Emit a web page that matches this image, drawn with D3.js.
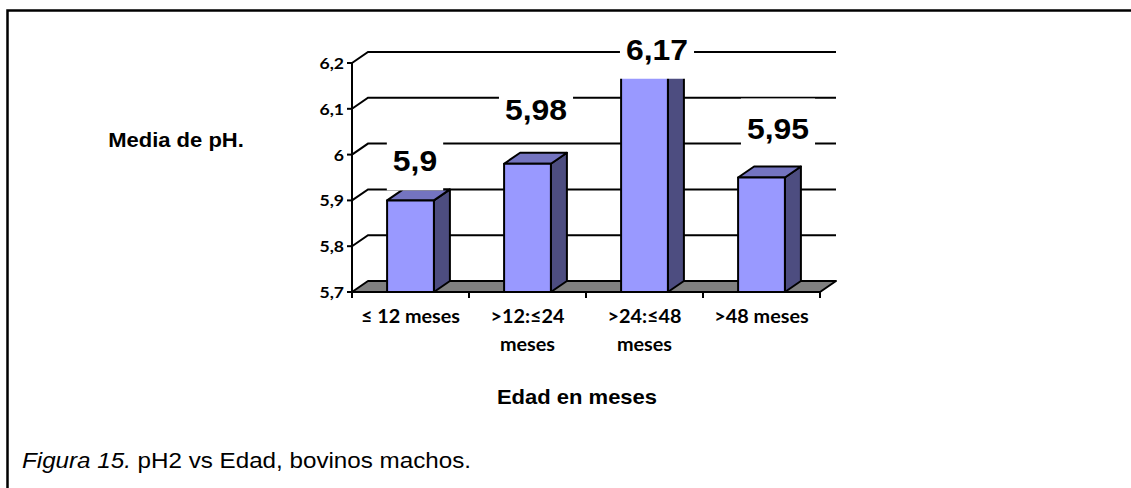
<!DOCTYPE html>
<html>
<head>
<meta charset="utf-8">
<script src="https://cdn.jsdelivr.net/npm/d3@7"></script>
<style>
  html, body { margin: 0; padding: 0; background: #fff; }
  svg { display: block; }
</style>
</head>
<body>
<svg id="chart" width="1131" height="488"></svg>
<script>
// Mean pH by age group (male cattle)
const categories = ["≤ 12 meses", ">12:≤24 meses", ">24:≤48 meses", ">48 meses"];
const categoryLines = [["≤ 12 meses"], [">12:≤24", "meses"], [">24:≤48", "meses"], [">48 meses"]];
const values = [5.9, 5.98, 6.17, 5.95];
const valueLabels = ["5,9", "5,98", "6,17", "5,95"];
const yTicks = [5.7, 5.8, 5.9, 6.0, 6.1, 6.2];
const yTickLabels = ["5,7", "5,8", "5,9", "6", "6,1", "6,2"];

const svg = d3.select("#chart");
const SX = 1.1;                 // horizontal text stretch used throughout the figure
const ARIAL = "'Liberation Sans', Arial, sans-serif";
const CALI = "Lato, 'Open Sans', sans-serif";

// plot frame (front plane) and 3D depth offset
const x0 = 352, x1 = 820, yBottom = 292, yTop = 63;
const DX = 16, DY = -11;

const x = d3.scaleBand().domain(categories).range([x0, x1]).paddingInner(0.6).paddingOuter(0.3);
const y = d3.scaleLinear().domain([5.7, 6.2]).range([yBottom, yTop]);

function stretchedText(g, px, py, str, opts) {
  const t = g.append("text")
    .attr("transform", `translate(${px},${py}) scale(${SX},1)`)
    .attr("text-anchor", opts.anchor || "start")
    .attr("font-family", opts.family || ARIAL)
    .attr("font-size", opts.size)
    .attr("font-weight", opts.weight || "normal")
    .attr("fill", "#000");
  if (str !== null) t.text(str);
  return t;
}

// outer figure frame
svg.append("path")
  .attr("d", "M7.5,488 V10.5 H1131")
  .attr("fill", "none").attr("stroke", "#000").attr("stroke-width", 2.5);

// back-wall gridlines with left-wall diagonals
const grid = svg.append("g").attr("stroke", "#000").attr("stroke-width", 2).attr("fill", "none");
yTicks.forEach(v => {
  if (v === 5.7) return;
  grid.append("path")
    .attr("d", `M${x0},${y(v)} L${x0 + DX},${y(v) + DY} H${x1 + DX}`);
});

// floor
svg.append("path")
  .attr("d", `M${x0},${yBottom} L${x0 + DX},${yBottom + DY} H${x1 + DX} L${x1},${yBottom} Z`)
  .attr("fill", "#808080").attr("stroke", "#000").attr("stroke-width", 2).attr("stroke-linejoin", "round");

// 3D bars
const bars = svg.append("g").attr("stroke", "#000").attr("stroke-width", 2).attr("stroke-linejoin", "round");
categories.forEach((c, i) => {
  const bx = x(c), bw = x.bandwidth(), top = y(values[i]);
  bars.append("path")   // right side
    .attr("d", `M${bx + bw},${yBottom} L${bx + bw + DX},${yBottom + DY} V${top + DY} L${bx + bw},${top} Z`)
    .attr("fill", "#4D4D80");
  bars.append("path")   // top face
    .attr("d", `M${bx},${top} L${bx + DX},${top + DY} H${bx + bw + DX} L${bx + bw},${top} Z`)
    .attr("fill", "#7474C0");
  bars.append("rect")   // front face
    .attr("x", bx).attr("y", top).attr("width", bw).attr("height", yBottom - top)
    .attr("fill", "#9999FF");
});

// axes
const axes = svg.append("g").attr("stroke", "#000").attr("stroke-width", 2);
axes.append("line").attr("x1", x0).attr("x2", x0).attr("y1", yTop).attr("y2", yBottom + 1);
axes.append("line").attr("x1", x0 - 1).attr("x2", x1).attr("y1", yBottom).attr("y2", yBottom);
yTicks.forEach(v => {
  axes.append("line").attr("x1", x0 - 5).attr("x2", x0).attr("y1", y(v)).attr("y2", y(v));
});
const boundaries = [x0].concat(categories.map(c => x(c) - x.step() * x.paddingInner() / 2 + x.step()));
boundaries.forEach(bx => {
  axes.append("line").attr("x1", bx).attr("x2", bx).attr("y1", yBottom).attr("y2", yBottom + 6);
});

// y tick labels
const yl = svg.append("g");
yTicks.forEach((v, i) => {
  stretchedText(yl, x0 - 8, y(v) + 6, yTickLabels[i], { anchor: "end", family: CALI, size: 16, weight: "bold" });
});

// category labels
const xl = svg.append("g");
categories.forEach((c, i) => {
  const cx = x(c) + x.bandwidth() / 2;
  categoryLines[i].forEach((line, k) => {
    stretchedText(xl, cx, 323 + k * 28, line, { anchor: "middle", family: CALI, size: 18, weight: "bold" });
  });
});

// data labels on white boxes
const labelRise = [29, 44, 17, 39];
const dl = svg.append("g");
categories.forEach((c, i) => {
  const cx = x(c) + x.bandwidth() / 2 + 4.5 + 4 * i;
  const base = y(values[i]) - labelRise[i];
  const box = dl.append("rect").attr("fill", "#fff");
  const t = stretchedText(dl, cx, base, valueLabels[i], { anchor: "middle", size: 29, weight: "bold" });
  const w = t.node().getComputedTextLength() * SX + 12;
  box.attr("x", cx - w / 2).attr("y", base - 40).attr("width", w).attr("height", 59);
});

// axis titles
stretchedText(svg, 176, 147, "Media de pH.", { anchor: "middle", size: 20, weight: "bold" });
stretchedText(svg, 577, 404, "Edad en meses", { anchor: "middle", size: 20, weight: "bold" });

// caption
const cap = stretchedText(svg, 22, 468, null, { size: 22 });
cap.append("tspan").attr("font-style", "italic").text("Figura 15.");
cap.append("tspan").text(" pH2 vs Edad, bovinos machos.");
</script>
</body>
</html>
